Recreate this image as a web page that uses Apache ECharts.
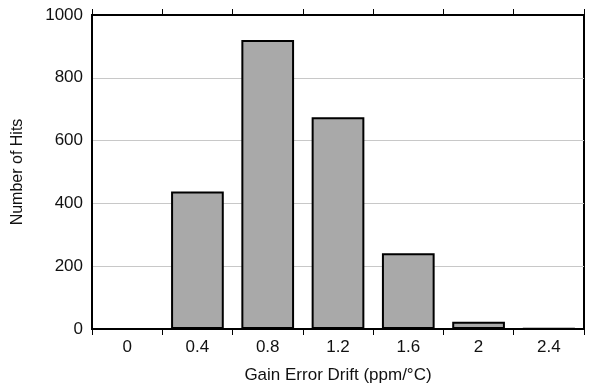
<!DOCTYPE html>
<html>
<head>
<meta charset="utf-8">
<script src="https://cdn.jsdelivr.net/npm/echarts@6/dist/echarts.min.js"></script>
<style>
  html, body { margin: 0; padding: 0; background: #fff; }
  #chart { width: 589px; height: 391px; }
</style>
</head>
<body>
<div id="chart"></div>
<script>
// drift bins (ppm/°C) and hit counts
const categories = ["0", "0.4", "0.8", "1.2", "1.6", "2", "2.4"];
const hits = [0, 438, 920, 674, 241, 23, 2];
const yTicks = { min: 0, max: 1000, interval: 200 };

const chart = echarts.init(document.getElementById("chart"));
const font = "Liberation Sans, Arial, sans-serif";

chart.setOption({
  animation: false,
  grid: {
    left: 92, right: 5, top: 15, bottom: 62,
    show: true, borderColor: "#000", borderWidth: 2
  },
  xAxis: [
    {
      type: "category",
      data: categories,
      position: "bottom",
      name: "Gain Error Drift (ppm/°C)",
      nameLocation: "middle",
      nameGap: 38,
      nameTextStyle: { color: "#111", fontSize: 17, fontFamily: font },
      axisLine: { lineStyle: { color: "#000", width: 2 } },
      axisTick: { show: true, length: 6, lineStyle: { color: "#000", width: 1 } },
      axisLabel: { color: "#111", fontSize: 17, fontFamily: font, margin: 10 }
    },
    {
      type: "category",
      data: categories,
      position: "top",
      axisLine: { lineStyle: { color: "#000", width: 2 } },
      axisTick: { show: true, length: 6, lineStyle: { color: "#000", width: 1 } },
      axisLabel: { show: false }
    }
  ],
  yAxis: {
    type: "value",
    min: yTicks.min, max: yTicks.max, interval: yTicks.interval,
    name: "Number of Hits",
    nameLocation: "middle",
    nameGap: 66,
    nameTextStyle: { color: "#111", fontSize: 16, fontFamily: font },
    axisLine: { show: true, lineStyle: { color: "#000", width: 2 } },
    axisTick: { show: false },
    axisLabel: {
      color: "#111", fontSize: 17, fontFamily: font, margin: 9,
      formatter: (v) => String(v)
    },
    splitLine: { lineStyle: { color: "#c8c8c8", width: 1 } }
  },
  series: [
    {
      type: "bar",
      data: hits,
      barCategoryGap: "25%",
      itemStyle: { color: "#a9a9a9", borderColor: "#000", borderWidth: 2 }
    }
  ]
});
</script>
</body>
</html>
